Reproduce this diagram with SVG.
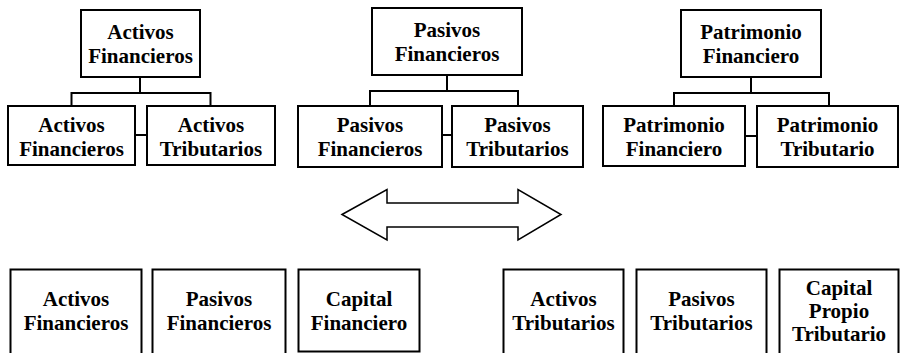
<svg xmlns="http://www.w3.org/2000/svg" width="901" height="353" viewBox="0 0 901 353">
<style>
.box{fill:#fff;stroke:#000;stroke-width:2}
.lbl{font-family:"Liberation Serif","Times New Roman",serif;font-weight:bold;font-size:21px;fill:#000;text-anchor:middle}
.con{fill:none;stroke:#000;stroke-width:2}
</style>
<rect width="901" height="353" fill="#fff"/>
<g id="connectors">
<path class="con" d="M140,77 V93 M71.5,106 V93 H210.5 V106 M135,135 H147"/>
<path class="con" d="M447,75 V91 M370,106 V91 H518 V106 M442,135 H452"/>
<path class="con" d="M751,77 V93 M674,106 V93 H829 V106 M745,136 H757"/>
<polygon id="double-arrow" points="342,214.5 387,189.5 387,203 518,203 518,189.5 561,214.5 518,240 518,227 387,227 387,240" fill="#fff" stroke="#000" stroke-width="1.5"/>
</g>
<g id="n1"><rect class="box" x="81" y="10" width="119" height="67"/><text class="lbl" x="140.5" y="39">Activos</text><text class="lbl" x="140.5" y="63">Financieros</text></g>
<g id="n2"><rect class="box" x="8" y="106" width="127" height="59"/><text class="lbl" x="71.5" y="132">Activos</text><text class="lbl" x="71.5" y="156">Financieros</text></g>
<g id="n3"><rect class="box" x="147" y="106" width="128" height="59"/><text class="lbl" x="211" y="132">Activos</text><text class="lbl" x="211" y="156">Tributarios</text></g>
<g id="n4"><rect class="box" x="372" y="8" width="150" height="67"/><text class="lbl" x="447" y="37">Pasivos</text><text class="lbl" x="447" y="61">Financieros</text></g>
<g id="n5"><rect class="box" x="298" y="106" width="144" height="61"/><text class="lbl" x="370" y="132">Pasivos</text><text class="lbl" x="370" y="156">Financieros</text></g>
<g id="n6"><rect class="box" x="452" y="106" width="131" height="61"/><text class="lbl" x="517.5" y="132">Pasivos</text><text class="lbl" x="517.5" y="156">Tributarios</text></g>
<g id="n7"><rect class="box" x="681" y="10" width="140" height="67"/><text class="lbl" x="751" y="39">Patrimonio</text><text class="lbl" x="751" y="63">Financiero</text></g>
<g id="n8"><rect class="box" x="603" y="106" width="142" height="60"/><text class="lbl" x="674" y="132">Patrimonio</text><text class="lbl" x="674" y="156">Financiero</text></g>
<g id="n9"><rect class="box" x="757" y="106" width="141" height="61"/><text class="lbl" x="827.5" y="132">Patrimonio</text><text class="lbl" x="827.5" y="156">Tributario</text></g>
<g id="b1"><rect class="box" x="10.5" y="269.5" width="131" height="100"/><text class="lbl" x="76" y="306">Activos</text><text class="lbl" x="76" y="330">Financieros</text></g>
<g id="b2"><rect class="box" x="152.5" y="269.5" width="133" height="100"/><text class="lbl" x="219" y="306">Pasivos</text><text class="lbl" x="219" y="330">Financieros</text></g>
<g id="b3"><rect class="box" x="298.5" y="269.5" width="121" height="82"/><text class="lbl" x="359" y="306">Capital</text><text class="lbl" x="359" y="330">Financiero</text></g>
<g id="b4"><rect class="box" x="503.5" y="269.5" width="120" height="100"/><text class="lbl" x="563.5" y="306">Activos</text><text class="lbl" x="563.5" y="330">Tributarios</text></g>
<g id="b5"><rect class="box" x="636.5" y="269.5" width="130" height="100"/><text class="lbl" x="701.5" y="306">Pasivos</text><text class="lbl" x="701.5" y="330">Tributarios</text></g>
<g id="b6"><rect class="box" x="779.5" y="269.5" width="119" height="100"/><text class="lbl" x="839" y="295">Capital</text><text class="lbl" x="839" y="318">Propio</text><text class="lbl" x="839" y="341">Tributario</text></g>
</svg>
